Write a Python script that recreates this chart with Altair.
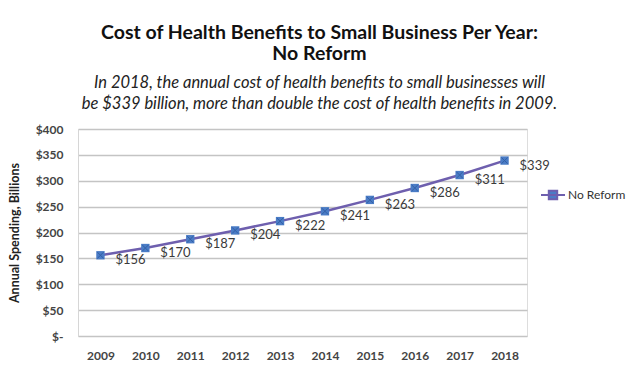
import altair as alt
import pandas as pd

years = ["2009", "2010", "2011", "2012", "2013", "2014", "2015", "2016", "2017", "2018"]
values = [156, 170, 187, 204, 222, 241, 263, 286, 311, 339]
series = "No Reform"
title_lines = ["Cost of Health Benefits to Small Business Per Year:", "No Reform"]
subtitle_lines = [
    "In 2018, the annual cost of health benefits to small businesses will",
    "be $339 billion, more than double the cost of health benefits in 2009.",
]
y_title = "Annual Spending, Billions"

df = pd.DataFrame({"year": years, "value": values, "series": [series] * len(years)})
df["label"] = ["$" + str(v) for v in values]

FONT = "Lato"
LINE = "#6e5fae"
MARK = "#4a7cc6"

x = alt.X("year:O", scale=alt.Scale(padding=0.5),
          axis=alt.Axis(title=None, labelAngle=0, ticks=False, domain=False,
                        labelPadding=14, labelFontSize=12, labelFontWeight="bold",
                        labelColor="#444444", labelFont=FONT))
y = alt.Y("value:Q", scale=alt.Scale(domain=[0, 400]),
          axis=alt.Axis(title=y_title, values=[0, 50, 100, 150, 200, 250, 300, 350, 400],
                        labelExpr="datum.value == 0 ? '$-' : '$' + datum.value",
                        ticks=False, domain=True, domainColor="#d6d6d6",
                        gridColor="#c4c4c4", gridWidth=1.5, labelPadding=15,
                        labelFontSize=12, labelFontWeight="bold", labelColor="#444444",
                        labelFont=FONT, titleFont=FONT, titleFontSize=12.5,
                        titleFontWeight="bold", titleColor="#222222", titlePadding=14))

base = alt.Chart(df)

legend_path = "M-1,0H1M-0.35,-0.35H0.35V0.35H-0.35Z"

pts = base.mark_point(shape="square", filled=True, size=70, opacity=1).encode(
    x=x, y=y,
    color=alt.Color("series:N", scale=alt.Scale(domain=[series], range=[MARK]),
                    legend=alt.Legend(title=None, orient="none", legendX=462, legendY=53,
                                      symbolType=legend_path, symbolSize=576,
                                      symbolStrokeWidth=2, symbolFillColor=MARK,
                                      symbolStrokeColor=LINE, symbolOpacity=1,
                                      labelFont=FONT, labelFontSize=12,
                                      labelColor="#333333", labelOffset=2)),
)
line = base.mark_line(strokeWidth=2.5, color=LINE).encode(x=x, y=y)
crosses = base.mark_point(shape="M-0.8,-0.8L0.8,0.8M0.8,-0.8L-0.8,0.8", filled=False,
                          size=60, strokeWidth=1, color="#2f5a9e", opacity=0.8).encode(x=x, y=y)

labels = base.mark_text(align="left", baseline="middle", dx=15, dy=5, font=FONT,
                        fontSize=13, color="#3a3a3a").encode(x=x, y=y, text="label:N")

chart = alt.layer(line, pts, crosses, labels).properties(
    width=449, height=207,
    title=alt.TitleParams(text=title_lines, subtitle=subtitle_lines, anchor="middle",
                          font=FONT, fontSize=19.5, fontWeight="bold", color="#111111",
                          lineHeight=21, subtitleFont=FONT, subtitleFontSize=16.5,
                          subtitleFontStyle="italic", subtitleColor="#222222",
                          subtitleLineHeight=21, subtitlePadding=10, offset=10, dx=17),
    padding={"left": 70, "top": 121, "right": 105, "bottom": 45},
    autosize=alt.AutoSizeParams(type="none"),
).configure_view(stroke=None).configure(background="white")

chart.save("out.html", embed_options={"renderer": "svg", "actions": False})
